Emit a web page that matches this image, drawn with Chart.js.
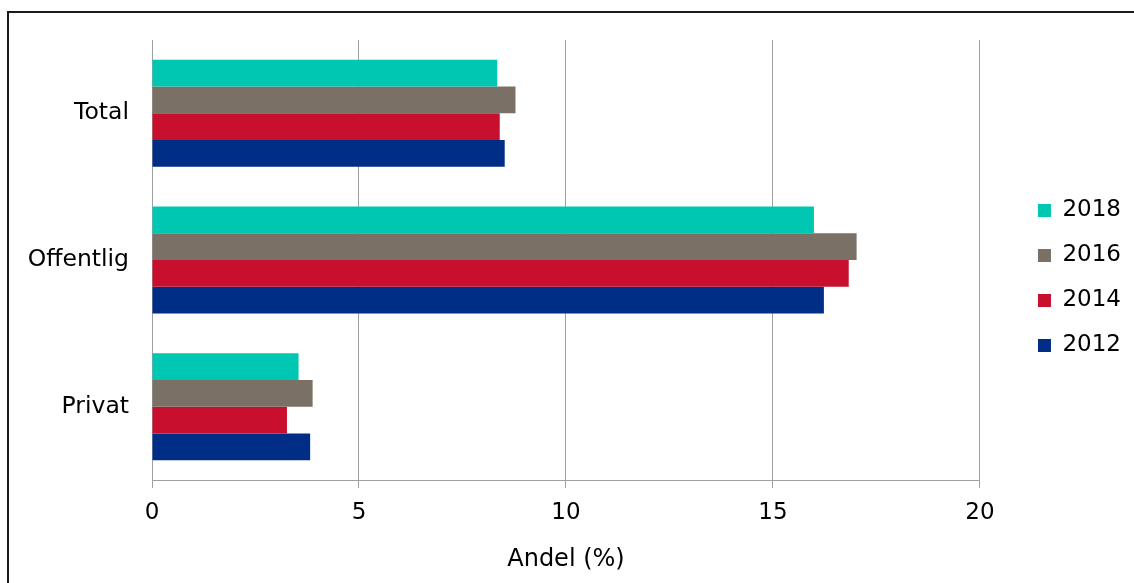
<!DOCTYPE html>
<html>
<head>
<meta charset="utf-8">
<script src="https://cdn.jsdelivr.net/npm/chart.js@4"></script>
<style>
  html, body { margin: 0; padding: 0; background: #fff; overflow: hidden; }
  #frame { position: absolute; left: 7px; top: 11px; width: 1200px; height: 700px;
           border-top: 2px solid #1a1a1a; border-left: 2px solid #1a1a1a; }
  #wrap { position: absolute; left: 0; top: 0; width: 1134px; height: 583px; }
</style>
</head>
<body>
<div id="frame"></div>
<div id="wrap"><canvas id="c" width="1134" height="583"></canvas></div>
<script>
const categories = ['Total', 'Offentlig', 'Privat'];
const seriesNames = ['2018', '2016', '2014', '2012'];
const values2018 = [8.34, 15.99, 3.54];
const values2016 = [8.78, 17.02, 3.88];
const values2014 = [8.40, 16.83, 3.26];
const values2012 = [8.52, 16.23, 3.82];
const xTicks = [0, 5, 10, 15, 20];
const axisTitle = 'Andel (%)';

const colors = ['#00C7B1', '#7A7065', '#C8102E', '#002E87'];
const seriesValues = [values2018, values2016, values2014, values2012];
const FONT = 'DejaVu Sans';

const chart = new Chart(document.getElementById('c'), {
  type: 'bar',
  data: {
    labels: categories,
    datasets: seriesNames.map((n, i) => ({
      label: n,
      data: seriesValues[i],
      backgroundColor: colors[i],
      borderWidth: 0,
      categoryPercentage: 0.73,
      barPercentage: 1.0
    }))
  },
  options: {
    indexAxis: 'y',
    responsive: false,
    animation: false,
    layout: { padding: { top: 40, right: 3, bottom: 0, left: 0 } },
    plugins: {
      tooltip: { enabled: false },
      legend: {
        position: 'right',
        align: 'start',
        title: { display: true, text: ' ', font: { size: 12 }, padding: { top: 0, bottom: 122.6 } },
        labels: {
          boxWidth: 13, boxHeight: 13, padding: 22,
          color: '#000', font: { family: FONT, size: 23 }
        }
      }
    },
    scales: {
      x: {
        min: 0, max: 20,
        afterBuildTicks: s => { s.ticks = xTicks.map(v => ({ value: v })); },
        afterFit: s => { s.height = 103; },
        grid: { color: '#a0a0a0', lineWidth: 1, tickLength: 8, drawTicks: true },
        border: { display: true, color: '#a0a0a0', width: 1 },
        ticks: { color: '#000', font: { family: FONT, size: 23 }, padding: 11, maxRotation: 0 },
        title: { display: true, text: axisTitle, color: '#000', font: { family: FONT, size: 24 }, padding: { top: 0, bottom: 9 } }
      },
      y: {
        afterFit: s => { s.width = 152; },
        grid: { display: false, drawTicks: false },
        border: { display: false },
        ticks: { color: '#000', font: { family: FONT, size: 23.5 }, padding: 23 }
      },
      spacer: {
        type: 'category',
        labels: categories,
        position: 'right',
        display: true,
        afterFit: s => { s.width = 36; },
        grid: { display: false, drawTicks: false },
        border: { display: false },
        ticks: { display: false }
      }
    }
  }
});
</script>
</body>
</html>
